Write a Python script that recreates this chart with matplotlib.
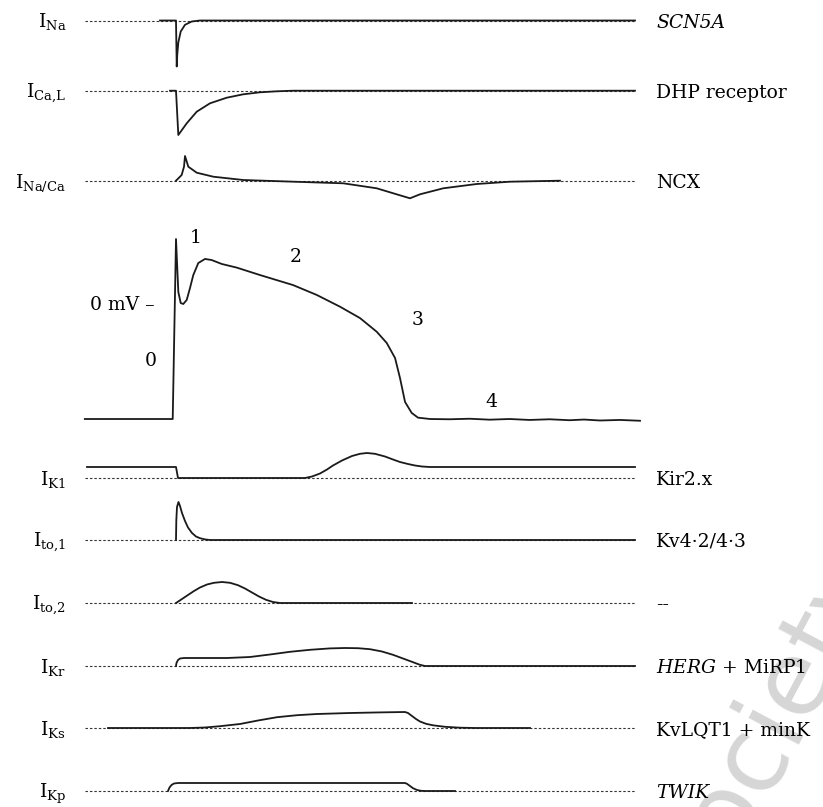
import matplotlib
matplotlib.use('Agg')
import matplotlib.pyplot as plt
import numpy as np

plt.rcParams['font.family'] = 'DejaVu Serif'
plt.rcParams['mathtext.fontset'] = 'custom'
plt.rcParams['mathtext.rm'] = 'DejaVu Serif'
plt.rcParams['mathtext.it'] = 'DejaVu Serif:italic'

# --- data: time in ms (0 = AP peak), currents in a.u. (outward positive) ---
ap_t = [-114, -4.1, 0, 2.9, 5.9, 9.1, 13.4, 17.5, 21.6, 27.9, 36.3, 44.6, 57.1,
        75.9, 105, 146.3, 175.9, 205, 230, 250.9, 263.4, 273.8, 280, 286.3,
        294.6, 302.5, 317.5, 342, 367, 392, 417, 442, 467, 492, 510, 530, 555, 580]
ap_v = [-85, -85, 48, 8.9, 0.7, 0, 3, 11.8, 21.4, 30.3, 33.3, 32.5, 29.6,
        26.9, 21.4, 14, 6.7, -2, -10.4, -20.5, -28.8, -39.9, -54.7, -72.4,
        -80.5, -84, -85, -85.2, -84.8, -85.5, -85.0, -85.7, -85.2, -85.9,
        -85.4, -86.1, -85.7, -86.3]

ina_t = [-20, 0, 0.9, 1.6, 2.9, 5.9, 11.25, 19.6, 30, 573.75]
ina_i = [0, 0, -4.6, -3.4, -2.2, -1.1, -0.43, -0.1, 0, 0]

ical_t = [-7.5, 0, 2.9, 13.4, 25.9, 42.5, 63.4, 84.1, 105, 125.9, 146.3, 573.75]
ical_i = [0, 0, -4.43, -3.26, -2.1, -1.26, -0.7, -0.36, -0.16, -0.06, 0, 0]

incx_t = [0, 7.1, 10, 11.25, 15.4, 25.9, 46.6, 84.1, 146.6, 209.1, 250.9,
          271.6, 292.5, 305, 334.1, 375.9, 417.5, 480]
incx_i = [0, 0.57, 1.4, 2.47, 1.4, 0.8, 0.4, 0.07, -0.1, -0.26, -0.76,
          -1.26, -1.76, -1.36, -0.76, -0.33, -0.1, 0]

ik1_t = [-111.25, 0, 2.5, 161.25, 170, 180, 188.75, 196.25, 207.5, 220, 230,
         238.75, 248.75, 261.25, 271.25, 280, 290, 298.75, 307.5, 317.5, 573.75]
ik1_i = [1.1, 1.1, 0, 0, 0.15, 0.45, 0.85, 1.25, 1.75, 2.2, 2.42,
         2.5, 2.42, 2.15, 1.85, 1.6, 1.4, 1.25, 1.15, 1.1, 1.1]

ito1_t = [0, 0.4, 1.25, 3.1, 5, 7.5, 11.25, 15, 20, 25, 30, 36.25, 42.5, 573.75]
ito1_i = [0, 2.0, 3.3, 3.8, 3.4, 2.7, 1.9, 1.25, 0.7, 0.35, 0.18, 0.06, 0, 0]

ito2_t = [0, 7.5, 15, 22.5, 30, 38.75, 47.5, 57.5, 67.5, 77.5, 86.25, 95,
          103.75, 112.5, 121.25, 130, 295]
ito2_i = [0, 0.4, 0.8, 1.2, 1.55, 1.85, 2.02, 2.1, 2.02, 1.78, 1.45, 1.05,
          0.65, 0.32, 0.1, 0, 0]

ikr_t = [0, 0.6, 2.5, 5, 10, 63.75, 92.5, 117.5, 142.5, 167.5, 192.5, 211.25,
         227.5, 242.5, 257.5, 271.25, 283.75, 296.25, 305, 311.25, 573.75]
ikr_i = [0, 0.3, 0.6, 0.75, 0.8, 0.8, 0.9, 1.15, 1.42, 1.62, 1.76, 1.8,
         1.78, 1.68, 1.45, 1.12, 0.75, 0.38, 0.12, 0, 0]

iks_t = [-85, 17.5, 36.25, 55, 80, 102.5, 126.25, 151.25, 176.25, 217.5, 255,
         286.25, 290, 295, 300, 305, 312.5, 321.25, 336.25, 355, 373.75, 442.5]
iks_i = [0, 0, 0.05, 0.18, 0.4, 0.75, 1.08, 1.28, 1.4, 1.5, 1.56,
         1.6, 1.5, 1.2, 0.9, 0.65, 0.42, 0.27, 0.12, 0.03, 0, 0]

ikp_t = [-10, -8.1, -5.6, -2.5, 2.5, 286.25, 288.75, 292.5, 296.25, 301.25,
         306.25, 311.25, 348.75]
ikp_i = [0, 0.35, 0.6, 0.75, 0.8, 0.8, 0.72, 0.5, 0.28, 0.1, 0.02, 0, 0]

current_labels = [r'$\mathrm{I}_{\mathrm{Na}}$', r'$\mathrm{I}_{\mathrm{Ca{,}L}}$',
                  r'$\mathrm{I}_{\mathrm{Na/Ca}}$', r'$\mathrm{I}_{\mathrm{K1}}$',
                  r'$\mathrm{I}_{\mathrm{to{,}1}}$', r'$\mathrm{I}_{\mathrm{to{,}2}}$',
                  r'$\mathrm{I}_{\mathrm{Kr}}$', r'$\mathrm{I}_{\mathrm{Ks}}$',
                  r'$\mathrm{I}_{\mathrm{Kp}}$']
gene_labels = ['SCN5A', 'DHP receptor', 'NCX', 'Kir2.x', 'Kv4·2/4·3', '--',
               r'$\mathit{HERG}$ + MiRP1', 'KvLQT1 + minK', 'TWIK']
gene_italic = [True, False, False, False, False, False, False, False, True]
traces = [(ina_t, ina_i), (ical_t, ical_i), (incx_t, incx_i), (ik1_t, ik1_i),
          (ito1_t, ito1_i), (ito2_t, ito2_i), (ikr_t, ikr_i), (iks_t, iks_i),
          (ikp_t, ikp_i)]
phase_names = ['0', '1', '2', '3', '4']
phase_t = [-32, 24, 150, 302, 394]
phase_v = [-40.6, 50, 36, -10.3, -71]

# --- layout (pixels) ---
W, H = 823, 807
T0_PX = 176          # x of AP peak
PX_PER_MS = 0.8
GAIN = 10            # px per current unit
ZERO_MV_PX = 304
PX_PER_MV = 1.353
row_base = [20.5, 90.7, 180.7, 478, 540, 603, 666, 728, 791]
T_START, T_END = -113.75, 573.75
FS = 13.5


def tx(t):
    return T0_PX + np.asarray(t, dtype=float) * PX_PER_MS


fig = plt.figure(figsize=(W / 100, H / 100), dpi=100)
ax = fig.add_axes([0, 0, 1, 1])
ax.set_xlim(0, W)
ax.set_ylim(H, 0)
ax.axis('off')

# faint publisher watermark
ax.text(704, 912, 'Society', fontsize=75, family='DejaVu Sans', color='#d6d6d6',
        rotation=62, rotation_mode='anchor', ha='left', va='baseline', zorder=0,
        clip_on=True)

for lab, gene, ital, (t, i), base in zip(current_labels, gene_labels,
                                         gene_italic, traces, row_base):
    ax.plot(tx([T_START, T_END]), [base, base], color='#333333', lw=0.8,
            dashes=(2.2, 1.8), zorder=2)
    ax.plot(tx(t), base - GAIN * np.asarray(i), color='#1a1a1a', lw=1.3,
            solid_joinstyle='round', zorder=3)
    ax.text(66, base + 7, lab, fontsize=FS, ha='right', va='baseline', zorder=4)
    ax.text(656, base + 7, gene, fontsize=FS, ha='left', va='baseline',
            style='italic' if ital else 'normal', zorder=4)

# action potential
ax.plot(tx(ap_t), ZERO_MV_PX - PX_PER_MV * np.asarray(ap_v), color='#1a1a1a',
        lw=1.3, solid_joinstyle='round', zorder=3)
ax.text(155, ZERO_MV_PX + 6, '0 mV –', fontsize=FS, ha='right', va='baseline')
for name, t, v in zip(phase_names, phase_t, phase_v):
    ax.text(tx(t), ZERO_MV_PX - PX_PER_MV * v + 7, name, fontsize=FS,
            ha='center', va='baseline')

fig.savefig('out.png', dpi=100)
